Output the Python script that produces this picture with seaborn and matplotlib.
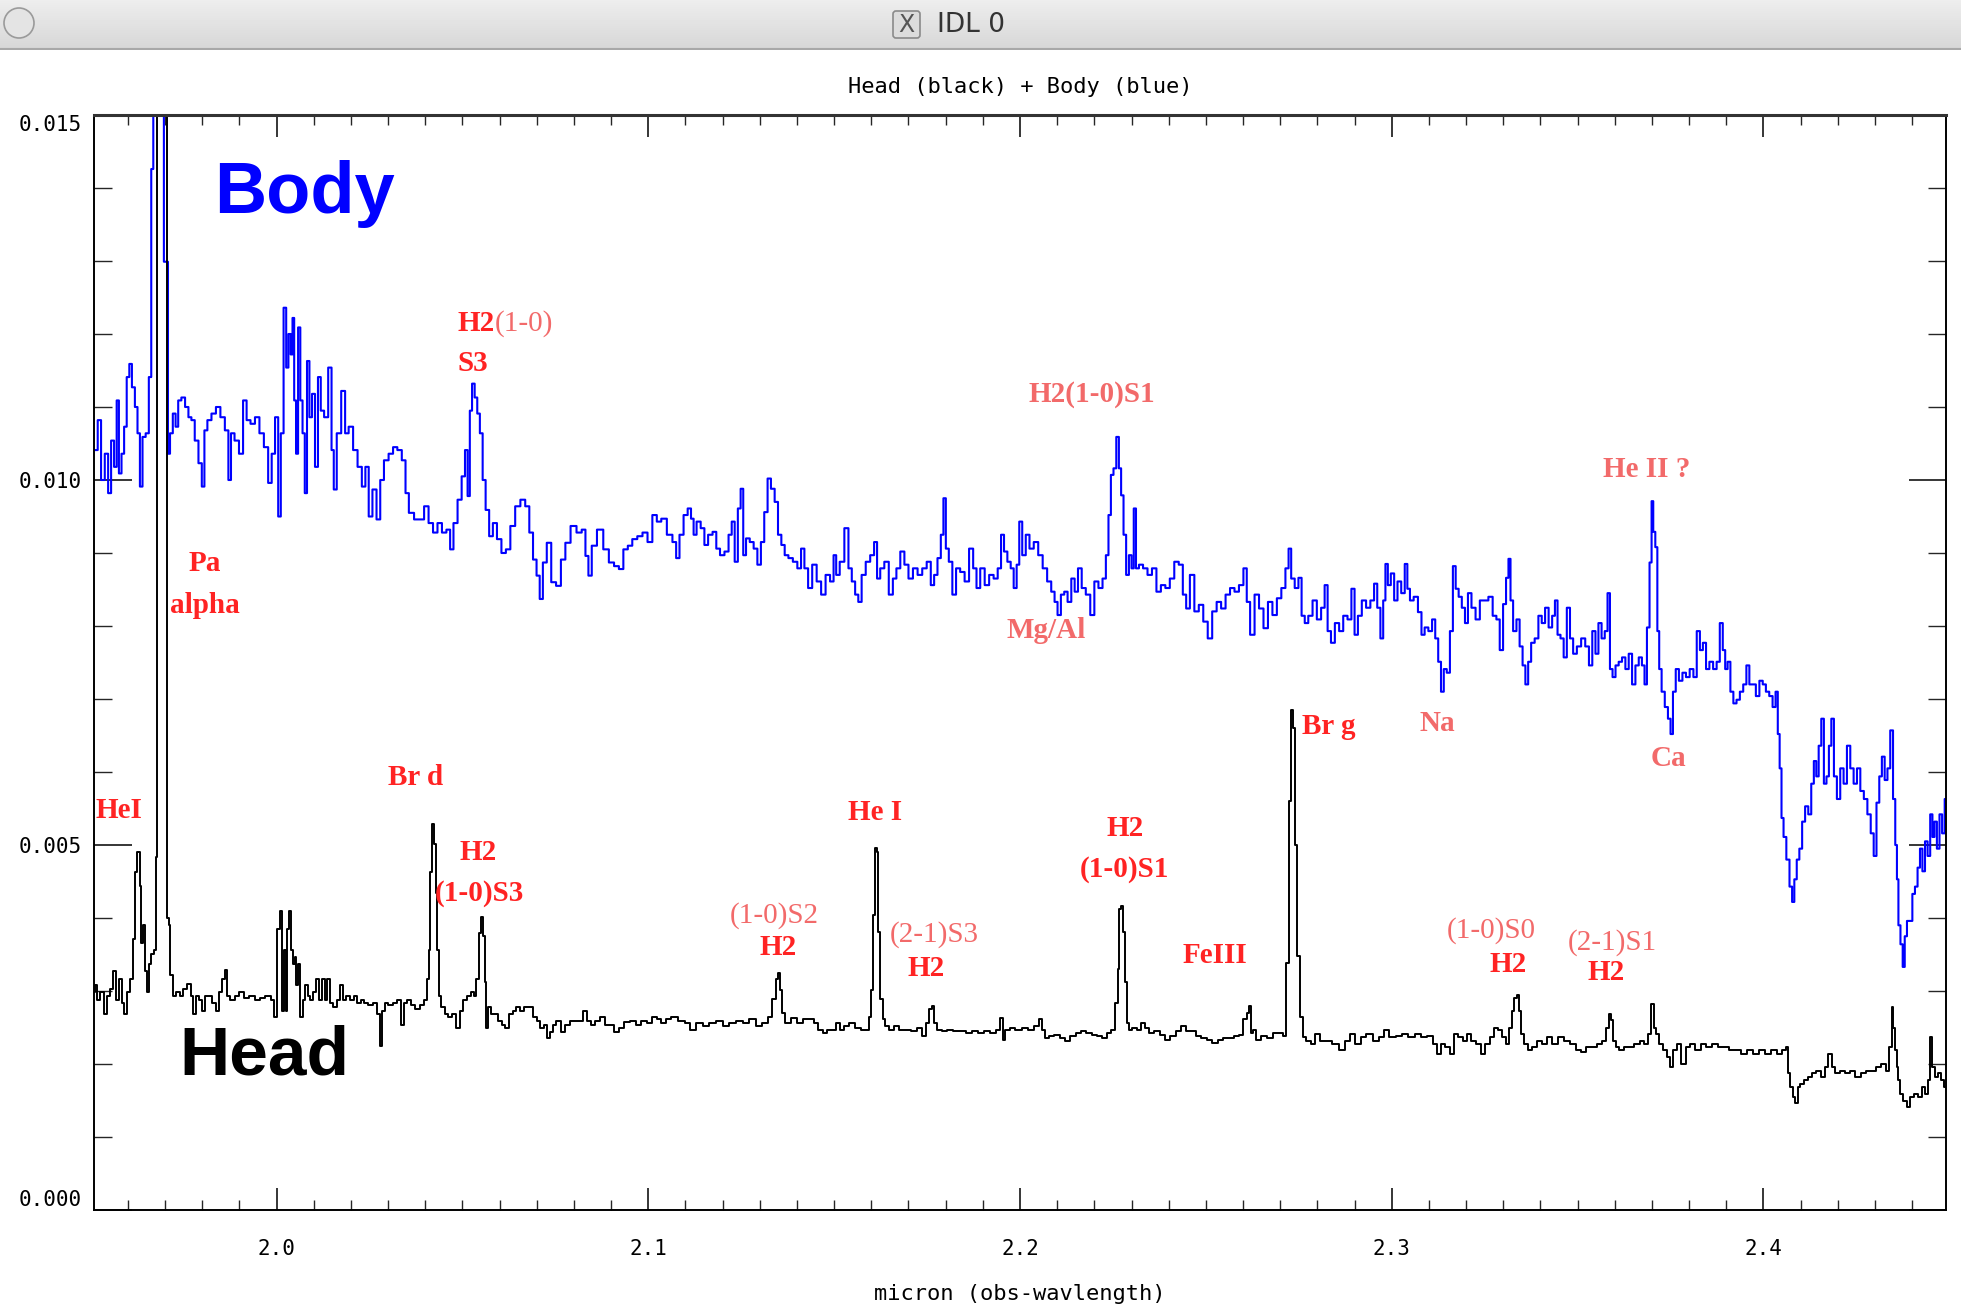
import numpy as np
import pandas as pd
import matplotlib
matplotlib.use("Agg")
import matplotlib.pyplot as plt
import seaborn as sns
from matplotlib.patches import Circle, FancyBboxPatch
from matplotlib.ticker import MultipleLocator, FormatStrFormatter

# ---------------- data (wavelength in micron, flux in units of 1e-3) ----------------
body_wl = [
    1.9508, 1.9515, 1.9523, 1.9533, 1.9543, 1.9551, 1.9559, 1.9567, 1.9573, 1.9579,
    1.9587, 1.9593, 1.9601, 1.9607, 1.9615, 1.9623, 1.9629, 1.9636, 1.9643, 1.9653,
    1.9660, 1.9666, 1.9671, 1.9695, 1.9699, 1.9706, 1.9710, 1.9717, 1.9725, 1.9732,
    1.9739, 1.9749, 1.9759, 1.9767, 1.9775, 1.9785, 1.9795, 1.9803, 1.9809, 1.9819,
    1.9831, 1.9843, 1.9855, 1.9867, 1.9874, 1.9881, 1.9893, 1.9905, 1.9915, 1.9924,
    1.9936, 1.9948, 1.9960, 1.9972, 1.9983, 1.9991, 2.0001, 2.0008, 2.0015, 2.0023,
    2.0029, 2.0035, 2.0041, 2.0045, 2.0050, 2.0055, 2.0061, 2.0067, 2.0073, 2.0079,
    2.0085, 2.0092, 2.0099, 2.0108, 2.0115, 2.0123, 2.0133, 2.0145, 2.0151, 2.0157,
    2.0167, 2.0181, 2.0188, 2.0200, 2.0212, 2.0224, 2.0235, 2.0243, 2.0253, 2.0263,
    2.0275, 2.0283, 2.0295, 2.0308, 2.0319, 2.0331, 2.0343, 2.0351, 2.0361, 2.0379,
    2.0391, 2.0403, 2.0415, 2.0427, 2.0439, 2.0451, 2.0463, 2.0471, 2.0481, 2.0493,
    2.0503, 2.0511, 2.0517, 2.0523, 2.0529, 2.0537, 2.0543, 2.0551, 2.0558, 2.0567,
    2.0577, 2.0587, 2.0599, 2.0611, 2.0623, 2.0635, 2.0649, 2.0663, 2.0675, 2.0685,
    2.0695, 2.0704, 2.0712, 2.0721, 2.0733, 2.0745, 2.0759, 2.0771, 2.0783, 2.0799,
    2.0815, 2.0827, 2.0835, 2.0843, 2.0853, 2.0871, 2.0887, 2.0901, 2.0915, 2.0927,
    2.0939, 2.0951, 2.0963, 2.0978, 2.0991,
    2.1005, 2.1017, 2.1029, 2.1041, 2.1059, 2.1071, 2.1079, 2.1089, 2.1101, 2.1111,
    2.1119, 2.1125, 2.1135, 2.1147, 2.1155, 2.1167, 2.1179, 2.1187, 2.1199, 2.1211,
    2.1221, 2.1228, 2.1237, 2.1245, 2.1252, 2.1259, 2.1267, 2.1279, 2.1288, 2.1299,
    2.1307, 2.1317, 2.1325, 2.1335, 2.1345, 2.1353, 2.1363, 2.1371, 2.1383, 2.1395,
    2.1407, 2.1415, 2.1425, 2.1435, 2.1447, 2.1459, 2.1471, 2.1483, 2.1495, 2.1502,
    2.1509, 2.1521, 2.1534, 2.1543, 2.1552, 2.1561, 2.1569, 2.1579, 2.1591, 2.1603,
    2.1612, 2.1619, 2.1629, 2.1641, 2.1653, 2.1663, 2.1672, 2.1684, 2.1694, 2.1706,
    2.1718, 2.1731, 2.1743, 2.1755, 2.1765, 2.1773, 2.1783, 2.1791, 2.1797, 2.1804,
    2.1813, 2.1823, 2.1833, 2.1845, 2.1857, 2.1869, 2.1879, 2.1887, 2.1899, 2.1911,
    2.1923, 2.1935, 2.1945, 2.1953, 2.1961, 2.1971, 2.1979, 2.1987, 2.1995, 2.2001,
    2.2011, 2.2020, 2.2031, 2.2043, 2.2055, 2.2067, 2.2079, 2.2089, 2.2097, 2.2105,
    2.2115, 2.2123, 2.2133, 2.2143, 2.2151, 2.2161, 2.2171, 2.2183, 2.2195, 2.2205,
    2.2217, 2.2227, 2.2235, 2.2241, 2.2248, 2.2255, 2.2263, 2.2269, 2.2275, 2.2282,
    2.2289, 2.2297, 2.2303, 2.2309, 2.2315, 2.2325, 2.2337, 2.2349, 2.2361, 2.2373,
    2.2385, 2.2397, 2.2409, 2.2421, 2.2433, 2.2443, 2.2451, 2.2463, 2.2475, 2.2487,
    2.2499, 2.2511, 2.2523, 2.2535, 2.2547, 2.2559, 2.2571, 2.2583, 2.2595, 2.2607,
    2.2613, 2.2625, 2.2637, 2.2649, 2.2661, 2.2673, 2.2685, 2.2697, 2.2709, 2.2719,
    2.2726, 2.2733, 2.2745,
    2.2753, 2.2762, 2.2770, 2.2781, 2.2793, 2.2804, 2.2816, 2.2823, 2.2832, 2.2841,
    2.2853, 2.2864, 2.2875, 2.2887, 2.2896, 2.2904, 2.2914, 2.2925, 2.2937, 2.2948,
    2.2957, 2.2965, 2.2974, 2.2980, 2.2986, 2.2993, 2.3002, 2.3011, 2.3020, 2.3031,
    2.3039, 2.3045, 2.3053, 2.3065, 2.3076, 2.3084, 2.3093, 2.3104, 2.3113, 2.3121,
    2.3129, 2.3136, 2.3144, 2.3152, 2.3161, 2.3168, 2.3176, 2.3184, 2.3193, 2.3201,
    2.3209, 2.3220, 2.3231, 2.3243, 2.3254, 2.3266, 2.3277, 2.3286, 2.3295, 2.3304,
    2.3311, 2.3317, 2.3322, 2.3331, 2.3340, 2.3348, 2.3356, 2.3363, 2.3371, 2.3379,
    2.3390, 2.3399, 2.3408, 2.3417, 2.3427, 2.3436, 2.3442, 2.3450, 2.3458, 2.3467,
    2.3475, 2.3484, 2.3492, 2.3504, 2.3515, 2.3526, 2.3535, 2.3544, 2.3552, 2.3560,
    2.3569, 2.3577, 2.3584, 2.3590, 2.3598, 2.3606, 2.3615, 2.3624, 2.3633, 2.3642,
    2.3651, 2.3660, 2.3669, 2.3677, 2.3683, 2.3690, 2.3697, 2.3701, 2.3706, 2.3712,
    2.3717, 2.3722, 2.3730, 2.3739, 2.3747, 2.3753, 2.3760, 2.3768, 2.3777, 2.3787,
    2.3796, 2.3807, 2.3816, 2.3825, 2.3833, 2.3841, 2.3850, 2.3859, 2.3870, 2.3878,
    2.3887, 2.3894, 2.3900, 2.3907, 2.3915, 2.3923, 2.3932, 2.3941, 2.3950, 2.3958,
    2.3966, 2.3975, 2.3984, 2.3994, 2.4002, 2.4011, 2.4020, 2.4029, 2.4036, 2.4041,
    2.4046, 2.4051, 2.4057, 2.4066, 2.4074, 2.4080, 2.4086, 2.4093, 2.4100, 2.4108,
    2.4116, 2.4125, 2.4132, 2.4139, 2.4145, 2.4152, 2.4159, 2.4166, 2.4173, 2.4179,
    2.4186, 2.4193, 2.4202, 2.4211, 2.4220, 2.4229, 2.4238, 2.4247, 2.4256, 2.4265,
    2.4275, 2.4284, 2.4293, 2.4300, 2.4308, 2.4315, 2.4322, 2.4330, 2.4337, 2.4345,
    2.4352, 2.4357, 2.4361, 2.4365, 2.4372, 2.4377, 2.4383, 2.4389, 2.4397, 2.4404,
    2.4411, 2.4418, 2.4424, 2.4431, 2.4438, 2.4445, 2.4452, 2.4457, 2.4463, 2.4470,
    2.4477, 2.4484, 2.4491,
]
body_flux_e3 = [
    10.41, 10.41, 10.82, 10.00, 10.36, 9.82, 10.54, 10.18, 11.09, 10.09,
    10.36, 10.73, 11.41, 11.59, 11.27, 11.00, 10.64, 9.91, 10.59, 10.64,
    11.41, 14.26, 20.00, 20.00, 12.99, 12.99, 10.36, 10.64, 10.91, 10.73,
    11.09, 11.13, 11.00, 10.86, 10.82, 10.54, 10.23, 9.91, 10.68, 10.82,
    10.91, 11.00, 10.86, 10.68, 10.00, 10.64, 10.54, 10.36, 11.09, 10.82,
    10.77, 10.86, 10.64, 10.45, 9.96, 10.36, 10.86, 9.50, 10.64, 12.36,
    11.54, 12.00, 11.72, 12.22, 11.09, 10.36, 12.09, 11.09, 10.64, 9.82,
    11.63, 10.86, 11.18, 10.18, 11.41, 10.95, 10.86, 11.54, 10.41, 9.87,
    10.64, 11.22, 10.64, 10.73, 10.41, 10.18, 9.91, 10.18, 9.50, 9.87,
    9.46, 10.00, 10.27, 10.36, 10.45, 10.41, 10.27, 9.82, 9.55, 9.46,
    9.46, 9.64, 9.41, 9.28, 9.41, 9.28, 9.32, 9.05, 9.41, 9.73,
    10.05, 10.41, 9.78, 10.95, 11.32, 11.13, 10.91, 10.64, 10.00, 9.59,
    9.23, 9.41, 9.19, 9.00, 9.05, 9.37, 9.64, 9.73, 9.64, 9.28,
    8.91, 8.69, 8.37, 8.87, 9.14, 8.60, 8.55, 8.91, 9.14, 9.37,
    9.28, 9.32, 8.96, 8.69, 9.10, 9.32, 9.05, 8.87, 8.82, 8.78,
    9.05, 9.10, 9.19, 9.23, 9.28,
    9.15, 9.52, 9.43, 9.47, 9.25, 9.15, 8.93, 9.25, 9.52, 9.61,
    9.47, 9.25, 9.43, 9.34, 9.11, 9.25, 9.29, 9.06, 8.97, 9.02,
    9.25, 9.43, 8.88, 9.61, 9.88, 8.97, 9.20, 9.15, 9.06, 8.84,
    9.15, 9.56, 10.02, 9.88, 9.70, 9.25, 9.11, 8.97, 8.93, 8.88,
    8.79, 9.06, 8.79, 8.52, 8.84, 8.61, 8.43, 8.70, 8.61, 8.97,
    8.70, 8.88, 9.34, 8.79, 8.61, 8.43, 8.33, 8.70, 8.88, 8.97,
    9.15, 8.65, 8.79, 8.88, 8.43, 8.65, 8.79, 9.02, 8.84, 8.65,
    8.79, 8.70, 8.79, 8.88, 8.56, 8.70, 8.93, 9.25, 9.75, 9.06,
    8.88, 8.43, 8.79, 8.74, 8.61, 9.06, 8.79, 8.52, 8.79, 8.56,
    8.70, 8.65, 8.79, 9.25, 9.02, 8.88, 8.79, 8.52, 8.84, 9.43,
    8.97, 9.25, 9.06, 9.15, 8.97, 8.79, 8.61, 8.47, 8.33, 8.15,
    8.43, 8.47, 8.33, 8.65, 8.47, 8.79, 8.52, 8.43, 8.15, 8.61,
    8.52, 8.65, 8.97, 9.52, 10.07, 10.16, 10.59, 10.16, 9.79, 9.25,
    8.70, 8.97, 8.79, 9.61, 8.79, 8.84, 8.79, 8.70, 8.79, 8.47,
    8.56, 8.52, 8.65, 8.88, 8.84, 8.43, 8.24, 8.70, 8.20, 8.29,
    8.06, 7.83, 8.20, 8.33, 8.24, 8.43, 8.52, 8.47, 8.56, 8.79,
    8.33, 7.88, 8.43, 8.24, 7.97, 8.33, 8.15, 8.38, 8.52, 8.79,
    9.06, 8.65, 8.52,
    8.66, 8.14, 8.04, 8.14, 8.35, 8.09, 8.25, 8.56, 7.93, 7.77,
    8.04, 7.93, 8.14, 8.09, 8.51, 7.88, 8.14, 8.35, 8.25, 8.35,
    8.58, 8.25, 7.83, 8.35, 8.85, 8.56, 8.72, 8.35, 8.61, 8.45,
    8.85, 8.51, 8.35, 8.40, 8.19, 7.88, 7.98, 7.93, 8.09, 7.83,
    7.51, 7.10, 7.41, 7.36, 7.93, 8.82, 8.51, 8.40, 8.25, 8.04,
    8.45, 8.25, 8.09, 8.35, 8.35, 8.40, 8.14, 8.09, 7.67, 8.30,
    8.66, 8.92, 8.35, 7.93, 8.09, 7.72, 7.46, 7.20, 7.51, 7.77,
    7.83, 8.14, 8.04, 8.25, 7.98, 8.14, 8.35, 7.88, 7.83, 7.57,
    8.25, 7.83, 7.62, 7.72, 7.83, 7.72, 7.46, 7.93, 7.62, 8.04,
    7.83, 7.93, 8.45, 7.41, 7.30, 7.46, 7.51, 7.57, 7.41, 7.62,
    7.20, 7.46, 7.57, 7.46, 7.20, 7.98, 8.87, 9.71, 9.29, 9.08,
    7.93, 7.41, 7.10, 6.89, 6.73, 6.52, 7.10, 7.41, 7.25, 7.36,
    7.30, 7.41, 7.30, 7.93, 7.67, 7.77, 7.41, 7.51, 7.41, 7.51,
    8.04, 7.67, 7.41, 7.51, 7.10, 6.94, 6.99, 7.10, 7.20, 7.46,
    7.20, 7.20, 7.04, 7.25, 7.20, 7.10, 7.04, 6.89, 7.10, 6.52,
    6.05, 5.37, 5.11, 4.80, 4.43, 4.22, 4.53, 4.80, 4.95, 5.32,
    5.53, 5.42, 5.84, 6.15, 5.94, 6.36, 6.73, 5.84, 5.94, 6.36,
    6.73, 5.94, 5.63, 6.05, 5.84, 6.36, 6.05, 5.84, 6.05, 5.74,
    5.63, 5.42, 5.16, 4.85, 5.58, 5.94, 6.21, 5.89, 6.05, 6.57,
    5.63, 5.00, 4.53, 3.90, 3.64, 3.33, 3.75, 3.96, 3.96, 4.33,
    4.43, 4.69, 4.95, 4.64, 5.05, 4.85, 5.42, 5.11, 5.32, 4.95,
    5.42, 5.16, 5.63,
]

head_wl = [
    1.9508, 1.9513, 1.9521, 1.9531, 1.9539, 1.9547, 1.9557, 1.9564, 1.9571, 1.9579,
    1.9587, 1.9595, 1.9603, 1.9610, 1.9617, 1.9622, 1.9629, 1.9634, 1.9639, 1.9643,
    1.9648, 1.9654, 1.9660, 1.9667, 1.9673, 1.9677, 1.9682, 1.9703, 1.9707, 1.9712,
    1.9716, 1.9725, 1.9735, 1.9744, 1.9754, 1.9766, 1.9773, 1.9779, 1.9787, 1.9797,
    1.9804, 1.9813, 1.9821, 1.9833, 1.9843, 1.9850, 1.9857, 1.9865, 1.9871, 1.9881,
    1.9893, 1.9905, 1.9919, 1.9934, 1.9948, 1.9962, 1.9977, 1.9991, 1.9998, 2.0006,
    2.0013, 2.0018, 2.0023, 2.0027, 2.0032, 2.0037, 2.0042, 2.0047, 2.0051, 2.0056,
    2.0061, 2.0067, 2.0073, 2.0080, 2.0087, 2.0095, 2.0103, 2.0111, 2.0119, 2.0127,
    2.0133, 2.0140, 2.0147, 2.0157, 2.0167, 2.0176, 2.0183, 2.0193, 2.0203, 2.0212,
    2.0223, 2.0231, 2.0241, 2.0253, 2.0265, 2.0275, 2.0281, 2.0287, 2.0295, 2.0307,
    2.0319, 2.0331, 2.0340, 2.0347, 2.0355, 2.0367, 2.0379, 2.0391, 2.0401, 2.0407,
    2.0411, 2.0416, 2.0421, 2.0426, 2.0431, 2.0435, 2.0440, 2.0447, 2.0457, 2.0467,
    2.0475, 2.0488, 2.0497, 2.0507, 2.0517, 2.0527, 2.0534, 2.0541, 2.0547, 2.0553,
    2.0558, 2.0563, 2.0566, 2.0572, 2.0582, 2.0591, 2.0601, 2.0611, 2.0620, 2.0630,
    2.0640, 2.0649, 2.0661, 2.0673, 2.0685, 2.0695, 2.0704, 2.0714, 2.0723, 2.0731,
    2.0738, 2.0747, 2.0759, 2.0771, 2.0783, 2.0795, 2.0810, 2.0822, 2.0829, 2.0839,
    2.0851, 2.0865, 2.0877, 2.0889, 2.0901, 2.0913, 2.0927, 2.0942, 2.0959, 2.0973,
    2.0987,
    2.1005, 2.1017, 2.1029, 2.1041, 2.1053, 2.1071, 2.1089, 2.1107, 2.1119, 2.1137,
    2.1155, 2.1173, 2.1191, 2.1209, 2.1227, 2.1245, 2.1263, 2.1281, 2.1299, 2.1315,
    2.1329, 2.1339, 2.1346, 2.1352, 2.1358, 2.1363, 2.1370, 2.1379, 2.1391, 2.1407,
    2.1423, 2.1439, 2.1451, 2.1463, 2.1475, 2.1487, 2.1499, 2.1509, 2.1521, 2.1533,
    2.1547, 2.1563, 2.1579, 2.1591, 2.1598, 2.1603, 2.1607, 2.1612, 2.1617, 2.1621,
    2.1627, 2.1634, 2.1641, 2.1653, 2.1667, 2.1684, 2.1701, 2.1715, 2.1731, 2.1742,
    2.1751, 2.1759, 2.1766, 2.1773, 2.1783, 2.1797, 2.1811, 2.1828, 2.1845, 2.1862,
    2.1879, 2.1895, 2.1912, 2.1929, 2.1943, 2.1951, 2.1955, 2.1965, 2.1979, 2.1996,
    2.2013, 2.2031, 2.2047, 2.2055, 2.2063, 2.2073, 2.2085, 2.2099, 2.2114, 2.2128,
    2.2143, 2.2157, 2.2171, 2.2185, 2.2200, 2.2215, 2.2227, 2.2239, 2.2253, 2.2260,
    2.2265, 2.2270, 2.2275, 2.2279, 2.2284, 2.2289, 2.2296, 2.2308, 2.2320, 2.2332,
    2.2342, 2.2354, 2.2368, 2.2383, 2.2397, 2.2411, 2.2426, 2.2440, 2.2452, 2.2467,
    2.2481, 2.2495, 2.2510, 2.2524, 2.2539, 2.2553, 2.2567, 2.2583, 2.2596, 2.2606,
    2.2613, 2.2618, 2.2623, 2.2630, 2.2642, 2.2656, 2.2673, 2.2690, 2.2702, 2.2711,
    2.2719, 2.2726, 2.2731, 2.2736, 2.2741, 2.2747,
    2.2759, 2.2764, 2.2776, 2.2787, 2.2801, 2.2815, 2.2832, 2.2849, 2.2866, 2.2880,
    2.2895, 2.2909, 2.2923, 2.2940, 2.2957, 2.2974, 2.2985, 2.3002, 2.3019, 2.3036,
    2.3053, 2.3070, 2.3087, 2.3104, 2.3116, 2.3127, 2.3138, 2.3150, 2.3161, 2.3172,
    2.3184, 2.3197, 2.3209, 2.3220, 2.3235, 2.3246, 2.3258, 2.3269, 2.3280, 2.3292,
    2.3303, 2.3311, 2.3320, 2.3327, 2.3333, 2.3340, 2.3345, 2.3352, 2.3360, 2.3371,
    2.3382, 2.3397, 2.3411, 2.3424, 2.3439, 2.3456, 2.3473, 2.3488, 2.3501, 2.3515,
    2.3530, 2.3544, 2.3558, 2.3572, 2.3581, 2.3586, 2.3592, 2.3598, 2.3606, 2.3617,
    2.3632, 2.3646, 2.3660, 2.3674, 2.3685, 2.3694, 2.3701, 2.3708, 2.3714, 2.3723,
    2.3735, 2.3746, 2.3753, 2.3762, 2.3773, 2.3785, 2.3796, 2.3810, 2.3824, 2.3839,
    2.3853, 2.3869, 2.3885, 2.3901, 2.3916, 2.3932, 2.3948, 2.3964, 2.3980, 2.3996,
    2.4012, 2.4028, 2.4044, 2.4057, 2.4064, 2.4068, 2.4075, 2.4082, 2.4089, 2.4095,
    2.4104, 2.4114, 2.4125, 2.4136, 2.4148, 2.4159, 2.4170, 2.4179, 2.4187, 2.4198,
    2.4213, 2.4227, 2.4241, 2.4254, 2.4268, 2.4281, 2.4295, 2.4308, 2.4323, 2.4335,
    2.4342, 2.4347, 2.4351, 2.4356, 2.4360, 2.4365, 2.4371, 2.4380, 2.4390, 2.4399,
    2.4411, 2.4422, 2.4431, 2.4440, 2.4447, 2.4451, 2.4457, 2.4465, 2.4474, 2.4483,
    2.4490,
]
head_flux_e3 = [
    2.98, 3.08, 2.88, 2.98, 2.69, 2.93, 3.03, 3.27, 2.88, 3.17,
    2.83, 2.69, 2.98, 3.17, 3.71, 4.63, 4.90, 4.44, 3.66, 3.90,
    3.27, 2.98, 3.37, 3.51, 3.56, 4.83, 25.0, 25.0, 4.00, 3.90,
    3.22, 2.93, 2.98, 2.93, 3.03, 3.10, 2.93, 2.69, 2.93, 2.88,
    2.73, 2.93, 2.93, 2.83, 2.73, 2.98, 3.17, 3.29, 2.93, 2.88,
    2.93, 2.98, 2.90, 2.93, 2.88, 2.90, 2.93, 2.88, 2.64, 3.85,
    4.10, 2.73, 3.56, 2.73, 3.85, 4.10, 3.56, 3.37, 3.46, 3.08,
    3.37, 2.64, 2.88, 3.08, 2.93, 2.88, 2.98, 3.17, 2.88, 3.17,
    2.88, 3.17, 2.83, 2.78, 2.88, 3.08, 2.88, 2.93, 2.88, 2.93,
    2.83, 2.88, 2.83, 2.81, 2.83, 2.69, 2.25, 2.73, 2.83, 2.81,
    2.83, 2.88, 2.54, 2.83, 2.88, 2.81, 2.76, 2.81, 2.88, 3.17,
    3.56, 4.63, 5.29, 5.02, 4.34, 3.56, 2.93, 2.78, 2.69, 2.64,
    2.69, 2.49, 2.73, 2.88, 2.93, 2.98, 2.93, 3.17, 3.80, 4.02,
    3.76, 3.12, 2.49, 2.78, 2.69, 2.69, 2.59, 2.54, 2.49, 2.69,
    2.73, 2.78, 2.73, 2.78, 2.78, 2.64, 2.59, 2.49, 2.54, 2.35,
    2.44, 2.54, 2.59, 2.44, 2.54, 2.59, 2.59, 2.59, 2.73, 2.59,
    2.54, 2.59, 2.64, 2.54, 2.54, 2.44, 2.49, 2.57, 2.59, 2.54,
    2.59,
    2.56, 2.65, 2.61, 2.56, 2.61, 2.65, 2.59, 2.56, 2.47, 2.56,
    2.52, 2.56, 2.59, 2.52, 2.56, 2.59, 2.56, 2.61, 2.52, 2.56,
    2.65, 2.89, 3.16, 3.25, 3.02, 2.70, 2.56, 2.56, 2.63, 2.56,
    2.61, 2.61, 2.56, 2.47, 2.43, 2.47, 2.47, 2.56, 2.47, 2.52,
    2.56, 2.49, 2.47, 2.47, 2.65, 3.02, 4.04, 4.96, 4.91, 3.81,
    2.89, 2.61, 2.52, 2.47, 2.52, 2.47, 2.47, 2.45, 2.49, 2.38,
    2.56, 2.75, 2.79, 2.56, 2.47, 2.45, 2.47, 2.45, 2.45, 2.43,
    2.45, 2.43, 2.45, 2.43, 2.47, 2.63, 2.33, 2.47, 2.49, 2.47,
    2.49, 2.47, 2.52, 2.61, 2.47, 2.36, 2.38, 2.40, 2.36, 2.31,
    2.38, 2.43, 2.45, 2.43, 2.40, 2.38, 2.36, 2.43, 2.47, 2.84,
    3.30, 4.13, 4.17, 3.81, 3.12, 2.56, 2.47, 2.49, 2.47, 2.56,
    2.49, 2.43, 2.45, 2.40, 2.33, 2.38, 2.45, 2.52, 2.45, 2.45,
    2.38, 2.36, 2.33, 2.29, 2.33, 2.36, 2.36, 2.38, 2.40, 2.61,
    2.70, 2.79, 2.43, 2.47, 2.33, 2.38, 2.36, 2.43, 2.43, 2.38,
    3.39, 5.60, 6.85, 6.60, 5.00, 3.48,
    2.64, 2.37, 2.32, 2.28, 2.41, 2.32, 2.32, 2.28, 2.19, 2.32,
    2.41, 2.28, 2.37, 2.41, 2.32, 2.37, 2.46, 2.37, 2.39, 2.41,
    2.37, 2.41, 2.37, 2.39, 2.28, 2.14, 2.28, 2.23, 2.14, 2.41,
    2.37, 2.32, 2.41, 2.32, 2.28, 2.14, 2.28, 2.37, 2.50, 2.46,
    2.37, 2.28, 2.50, 2.73, 2.91, 2.94, 2.73, 2.41, 2.28, 2.19,
    2.23, 2.32, 2.28, 2.37, 2.28, 2.37, 2.32, 2.28, 2.19, 2.16,
    2.23, 2.23, 2.28, 2.32, 2.50, 2.69, 2.60, 2.32, 2.23, 2.19,
    2.23, 2.23, 2.28, 2.32, 2.28, 2.41, 2.82, 2.50, 2.41, 2.28,
    2.19, 2.09, 1.96, 2.19, 2.28, 2.00, 2.23, 2.28, 2.19, 2.28,
    2.23, 2.28, 2.23, 2.23, 2.19, 2.19, 2.14, 2.19, 2.14, 2.19,
    2.14, 2.19, 2.14, 2.19, 2.23, 1.87, 1.69, 1.55, 1.46, 1.69,
    1.73, 1.78, 1.82, 1.87, 1.91, 1.82, 1.96, 2.14, 1.96, 1.87,
    1.91, 1.87, 1.91, 1.82, 1.87, 1.91, 1.91, 1.96, 2.00, 1.91,
    2.23, 2.78, 2.50, 2.19, 1.96, 1.78, 1.59, 1.50, 1.41, 1.55,
    1.59, 1.55, 1.69, 1.59, 1.78, 2.37, 1.96, 1.82, 1.87, 1.78,
    1.69,
]

RED = "#ff2323"
PINK = "#f26a6a"
# line identifications: text, wavelength, flux(1e-3), colour, weight, h-align
line_ids = [
    ("HeI", 1.9512, 5.47, RED, "bold", "left"),
    ("Pa", 1.9808, 8.86, RED, "bold", "center"),
    ("alpha", 1.9808, 8.28, RED, "bold", "center"),
    ("Br d", 2.0373, 5.93, RED, "bold", "center"),
    ("H2", 2.0541, 4.90, RED, "bold", "center"),
    ("(1-0)S3", 2.0545, 4.34, RED, "bold", "center"),
    ("H2", 2.0588, 12.14, RED, "bold", "right"),
    ("(1-0)", 2.0588, 12.14, PINK, "normal", "left"),
    ("S3", 2.0528, 11.60, RED, "bold", "center"),
    ("(1-0)S2", 2.1338, 4.03, PINK, "normal", "center"),
    ("H2", 2.1348, 3.60, RED, "bold", "center"),
    ("He I", 2.1610, 5.45, RED, "bold", "center"),
    ("(2-1)S3", 2.1768, 3.77, PINK, "normal", "center"),
    ("H2", 2.1748, 3.31, RED, "bold", "center"),
    ("H2", 2.2282, 5.23, RED, "bold", "center"),
    ("(1-0)S1", 2.2282, 4.66, RED, "bold", "center"),
    ("FeIII", 2.2524, 3.48, RED, "bold", "center"),
    ("Br g", 2.2830, 6.63, RED, "bold", "center"),
    ("(1-0)S0", 2.3267, 3.83, PINK, "normal", "center"),
    ("H2", 2.3314, 3.36, RED, "bold", "center"),
    ("(2-1)S1", 2.3593, 3.66, PINK, "normal", "center"),
    ("H2", 2.3576, 3.25, RED, "bold", "center"),
    ("H2(1-0)S1", 2.2192, 11.17, PINK, "bold", "center"),
    ("Mg/Al", 2.2071, 7.94, PINK, "bold", "center"),
    ("Na", 2.3123, 6.66, PINK, "bold", "center"),
    ("He II ?", 2.3687, 10.15, PINK, "bold", "center"),
    ("Ca", 2.3745, 6.18, PINK, "bold", "center"),
]

# ---------------- figure ----------------
sns.set_theme(style="white")
plt.rcParams["font.family"] = ["DejaVu Sans"]
W, H = 1961, 1308
fig = plt.figure(figsize=(W / 100, H / 100), dpi=100)
fig.patch.set_facecolor("white")

# window title bar
tb = fig.add_axes([0, 1 - 50 / H, 1, 50 / H])
grad = np.linspace(0.93, 0.84, 50).reshape(-1, 1)
tb.imshow(grad, aspect="auto", cmap="gray", vmin=0, vmax=1, extent=[0, W, 50, 0])
tb.set_xlim(0, W)
tb.set_ylim(50, 0)
tb.axis("off")
tb.axhline(49.3, color="#a8a8a8", lw=1.5)
tb.add_patch(Circle((19, 23), 15, facecolor="#e4e4e4", edgecolor="#9a9a9a", lw=1.2))
tb.add_patch(FancyBboxPatch((893, 11), 27, 27, boxstyle="round,pad=0,rounding_size=3",
                            facecolor="#dcdcdc", edgecolor="#8a8a8a", lw=1.2))
tb.text(906.5, 25, "X", ha="center", va="center", fontsize=17, color="#555555",
        family="DejaVu Sans")
tb.text(937, 25, "IDL 0", ha="left", va="center", fontsize=19, color="#333333",
        family="DejaVu Sans")

ax = fig.add_axes([94 / W, 1 - 1210 / H, (1946 - 94) / W, (1210 - 115) / H])

df_body = pd.DataFrame({"wl": body_wl, "flux": np.array(body_flux_e3) * 1e-3})
df_head = pd.DataFrame({"wl": head_wl, "flux": np.array(head_flux_e3) * 1e-3})
sns.lineplot(data=df_body, x="wl", y="flux", ax=ax, color="#0000ff", lw=1.5,
             estimator=None, sort=False, drawstyle="steps-mid")
sns.lineplot(data=df_head, x="wl", y="flux", ax=ax, color="black", lw=1.4,
             estimator=None, sort=False, drawstyle="steps-mid")

ax.set_xlim(1.9509, 2.4491)
ax.set_ylim(0, 0.015)

mono = "DejaVu Sans Mono"
ax.xaxis.set_major_locator(MultipleLocator(0.1))
ax.xaxis.set_minor_locator(MultipleLocator(0.01))
ax.yaxis.set_major_locator(MultipleLocator(0.005))
ax.yaxis.set_minor_locator(MultipleLocator(0.001))
ax.xaxis.set_major_formatter(FormatStrFormatter("%.1f"))
ax.yaxis.set_major_formatter(FormatStrFormatter("%.3f"))
ax.tick_params(axis="x", which="major", direction="in", length=16, width=1.1,
               top=True, bottom=True, pad=21, labelsize=15, colors="black")
ax.tick_params(axis="x", which="minor", direction="in", length=7.5, width=1.0,
               top=True, bottom=True)
ax.tick_params(axis="y", which="major", direction="in", length=27, width=1.1,
               left=True, right=True, pad=9, labelsize=15, colors="black")
ax.tick_params(axis="y", which="minor", direction="in", length=13, width=1.0,
               left=True, right=True)
for lab in ax.get_xticklabels() + ax.get_yticklabels():
    lab.set_family(mono)
for sp in ax.spines.values():
    sp.set_visible(True)
    sp.set_color("black")
    sp.set_linewidth(1.4)
ax.spines["top"].set_linewidth(2.2)
ax.spines["top"].set_color("#333333")

ax.set_xlabel("micron (obs-wavlength)", family=mono, fontsize=15.8, labelpad=18,
              color="black")
ax.set_ylabel("")
ax.set_title("Head (black) + Body (blue)", family=mono, fontsize=15.8, pad=16,
             color="black")

fig.canvas.draw()
yt = ax.yaxis.get_major_ticks()
yvals = ax.yaxis.get_majorticklocs()
for t, v in zip(yt, yvals):
    if abs(v) < 1e-9:
        t.label1.set_va("bottom")
    elif abs(v - 0.015) < 1e-9:
        t.label1.set_va("top")

for text, x, y, col, wt, ha in line_ids:
    ax.text(x, y * 1e-3, text, color=col, fontsize=21, fontweight=wt, ha=ha,
            va="center", family="Liberation Serif")

ax.text(2.0074, 13.92e-3, "Body", color="#0000ff", fontsize=52, fontweight="bold",
        ha="center", va="center", family="Liberation Sans")
ax.text(1.9966, 2.10e-3, "Head", color="black", fontsize=50, fontweight="bold",
        ha="center", va="center", family="Liberation Sans")

fig.savefig("out.png", dpi=100)
